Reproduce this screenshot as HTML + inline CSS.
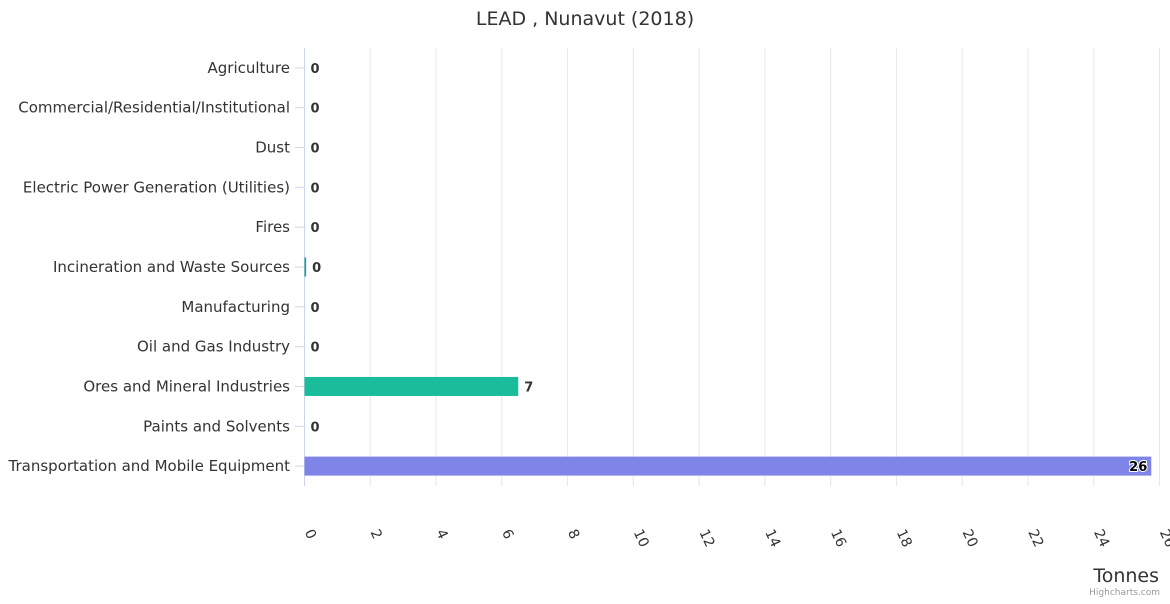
<!DOCTYPE html>
<html><head><meta charset="utf-8"><style>
body{margin:0;background:#fff;font-family:"DejaVu Sans","Liberation Sans",sans-serif}
</style></head><body>
<svg id="chart" width="1170" height="600" xmlns="http://www.w3.org/2000/svg" font-family="DejaVu Sans, Liberation Sans, sans-serif">
<text x="585" y="25" text-anchor="middle" font-size="19" fill="#333">LEAD , Nunavut (2018)</text>
<g id="grid"></g><g id="bars"></g><g id="ylab"></g><g id="xlab"></g>
<text x="1159" y="582" text-anchor="end" font-size="19" fill="#333">Tonnes</text>
<text x="1160" y="595" text-anchor="end" font-size="9" fill="#999">Highcharts.com</text>
</svg>
<script>
const categories=["Agriculture","Commercial/Residential/Institutional","Dust","Electric Power Generation (Utilities)","Fires","Incineration and Waste Sources","Manufacturing","Oil and Gas Industry","Ores and Mineral Industries","Paints and Solvents","Transportation and Mobile Equipment"];
const values=[0,0,0,0,0,0.05,0,0,6.5,0,25.75];
const labels=["0","0","0","0","0","0","0","0","7","0","26"];
const colors=["#7cb5ec","#434348","#90ed7d","#f7a35c","#8085e9","#1a9c9c","#e4d354","#2b908f","#1abc9c","#91e8e1","#7f85e8"];
const ticks=[0,2,4,6,8,10,12,14,16,18,20,22,24,26];
const NS="http://www.w3.org/2000/svg";
const x0=304.5,xmax=26,pw=855,ptop=48,pbottom=486;
const xs=v=>x0+v/xmax*pw;
const band=(pbottom-ptop)/categories.length;
const yc=i=>ptop+band*(i+0.5);
function mk(t,a,p){const e=document.createElementNS(NS,t);for(const k in a)e.setAttribute(k,a[k]);p.appendChild(e);return e;}
const g=document.getElementById('grid'),b=document.getElementById('bars'),yl=document.getElementById('ylab'),xl=document.getElementById('xlab');
ticks.forEach(t=>{
 const l=mk('line',{x1:xs(t),x2:xs(t),y1:ptop,y2:pbottom,stroke:t===0?'#ccd6eb':'#e6e6e6','stroke-width':1},g);
 
 
 const x=xs(t);
 const tx=mk('text',{x:x,y:532,'font-size':14,fill:'#333',transform:`rotate(65 ${x} 532)`},xl);
 tx.textContent=t;
 
 
});
categories.forEach((c,i)=>{
 const y=yc(i);
 const tk=mk('line',{x1:295,x2:304,y1:y,y2:y,stroke:'#ccd6eb'},g);
 
 
 const t=mk('text',{x:290,y:y+5,'text-anchor':'end','font-size':15,fill:'#333'},yl);
 t.textContent=c;
 
 
 const w=xs(values[i])-x0;
 if(w>0){
  const r=mk('rect',{x:x0,y:y-9.5,width:Math.max(w,1),height:19,fill:colors[i]},b);
  
  
 }
 const inside=w>400;
 const lx=inside?xs(values[i])-4:xs(values[i])+6;
 const v=mk('text',{x:lx,y:y+5,'text-anchor':inside?'end':'start','font-size':13,'font-weight':'bold',fill:inside?'#000':'#333',stroke:'#fff','stroke-width':inside?2:0,'paint-order':'stroke'},b);
 v.textContent=labels[i];
 
 
});
</script>
</body></html>
